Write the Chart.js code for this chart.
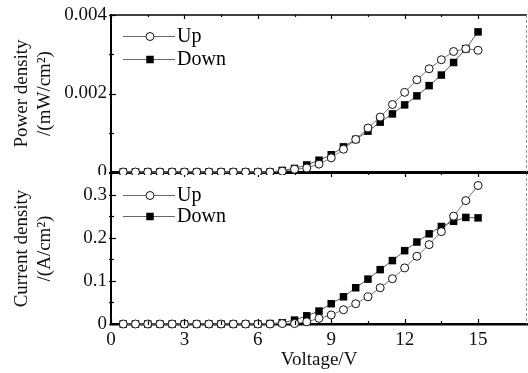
<!DOCTYPE html>
<html>
<head>
<meta charset="utf-8">
<script src="https://cdn.jsdelivr.net/npm/chart.js@4"></script>
<style>
  html, body { margin:0; padding:0; background:#fff; }
  #wrap { position:relative; width:528px; height:373px; overflow:hidden; }
  #wrap canvas { position:absolute; left:0; }
  #topChart { top:0; }
  #botChart { top:170px; }
</style>
</head>
<body>
<div id="wrap">
  <canvas id="botChart" width="528" height="203"></canvas>
  <canvas id="topChart" width="528" height="175"></canvas>
</div>
<script>
// ─── dados ───────────────────────────────────────────────
const VOLTAGE = [0.5, 1, 1.5, 2, 2.5, 3, 3.5, 4, 4.5, 5, 5.5, 6, 6.5, 7, 7.5,
                 8, 8.5, 9, 9.5, 10, 10.5, 11, 11.5, 12, 12.5, 13, 13.5, 14, 14.5, 15];

const POWER_UP   = [0, 0, 0, 0, 0, 0, 0, 0, 0, 0, 0, 0, 0, 0.00002, 0.00007,
                    0.0001, 0.0002, 0.00036, 0.00058, 0.00083, 0.00112, 0.0014, 0.00172, 0.00203,
                    0.00235, 0.00263, 0.00286, 0.00307, 0.00314, 0.0031];
const POWER_DOWN = [0, 0, 0, 0, 0, 0, 0, 0, 0, 0, 0, 0, 0, 0.00004, 0.00009,
                    0.00018, 0.0003, 0.00044, 0.00064, 0.00083, 0.00104, 0.00127, 0.00148, 0.00171,
                    0.00194, 0.0022, 0.00247, 0.00279, 0.00314, 0.00357];

const CURRENT_UP   = [0, 0, 0, 0, 0, 0, 0, 0, 0, 0, 0, 0, 0, 0.001, 0.001,
                      0.005, 0.013, 0.021, 0.033, 0.047, 0.063, 0.084, 0.105, 0.13,
                      0.157, 0.184, 0.214, 0.25, 0.286, 0.321];
const CURRENT_DOWN = [0, 0, 0, 0, 0, 0, 0, 0, 0, 0, 0, 0, 0.001, 0.003, 0.009,
                      0.019, 0.03, 0.047, 0.063, 0.084, 0.104, 0.126, 0.147, 0.17,
                      0.19, 0.209, 0.226, 0.238, 0.247, 0.246];

const SERIES_LABELS = ['Up', 'Down'];
const X_TITLE = 'Voltage/V';
const Y_TITLE_TOP = ['Power density', '/(mW/cm\u00b2)'];
const Y_TITLE_BOT = ['Current density', '/(A/cm\u00b2)'];

// ─── tema ────────────────────────────────────────────────
const FONT = "'Liberation Serif', 'Times New Roman', serif";
Chart.defaults.font.family = FONT;
Chart.defaults.font.size   = 19;
Chart.defaults.color       = '#111';
Chart.defaults.plugins.legend.display  = false;
Chart.defaults.plugins.tooltip.enabled = false;
Chart.defaults.animation = false;

const LEFT = 111;   // borda esquerda da área do gráfico

const xy = (ys) => VOLTAGE.map((v, i) => ({ x: v, y: ys[i] }));

function makeDatasets(up, down) {
  return [
    {
      label: SERIES_LABELS[0], data: xy(up),
      borderColor: '#777', borderWidth: 1,
      pointStyle: 'circle', pointRadius: 4,
      pointBackgroundColor: '#fff', pointBorderColor: '#111', pointBorderWidth: 1,
      clip: false,
    },
    {
      label: SERIES_LABELS[1], data: xy(down),
      borderColor: '#555', borderWidth: 1,
      pointStyle: 'rect', pointRadius: 5.3,
      pointBackgroundColor: '#000', pointBorderColor: '#000', pointBorderWidth: 0,
      clip: false,
    },
  ];
}

// ─── plugin: ticks internos, moldura e legenda ───────────
const frame = {
  id: 'frame',
  afterDraw(chart, args, opts) {
    const { ctx, chartArea: a, scales } = chart;
    ctx.save();
    // ticks do eixo y (para dentro)
    ctx.strokeStyle = '#000';
    ctx.lineWidth = 1.2;
    scales.y.ticks.forEach(t => {
      const py = Math.round(scales.y.getPixelForValue(t.value)) + 0.5;
      const len = t.label !== '' ? 5 : 3;
      ctx.beginPath(); ctx.moveTo(a.left - 2, py); ctx.lineTo(a.left + len, py); ctx.stroke();
    });
    // ticks do eixo x
    scales.x.ticks.forEach(t => {
      if (Math.abs(t.value / 1.5 - Math.round(t.value / 1.5)) > 1e-6) return;
      const px = Math.round(scales.x.getPixelForValue(t.value)) + 0.5;
      const len = t.label !== '' ? 5 : 3;
      if (opts.bottomTicks) {
        ctx.beginPath(); ctx.moveTo(px, a.bottom + 1); ctx.lineTo(px, a.bottom - len); ctx.stroke();
      }
      ctx.beginPath(); ctx.moveTo(px, a.top); ctx.lineTo(px, a.top + len - 1); ctx.stroke();
    });
    // borda superior
    ctx.lineWidth = opts.topWidth;
    ctx.beginPath(); ctx.moveTo(a.left, a.top); ctx.lineTo(a.right, a.top); ctx.stroke();
    // borda direita tracejada
    ctx.strokeStyle = '#999';
    ctx.lineWidth = 1;
    ctx.setLineDash([3, 2]);
    ctx.beginPath(); ctx.moveTo(a.right - 0.5, a.top); ctx.lineTo(a.right - 0.5, a.bottom); ctx.stroke();
    ctx.setLineDash([]);

    // legenda: linha — marcador — linha + texto
    ctx.font = `20px ${FONT}`;
    ctx.textBaseline = 'middle';
    chart.data.datasets.forEach((ds, i) => {
      const y = opts.legendY[i];
      const x0 = a.left + 12, xm = a.left + 39, x1 = a.left + 64;
      ctx.strokeStyle = '#666'; ctx.lineWidth = 1;
      ctx.beginPath(); ctx.moveTo(x0, y + 0.5); ctx.lineTo(x1, y + 0.5); ctx.stroke();
      if (ds.pointStyle === 'circle') {
        ctx.fillStyle = '#fff';
        ctx.beginPath(); ctx.arc(xm, y + 0.5, 4, 0, Math.PI * 2); ctx.fill();
        ctx.strokeStyle = '#111'; ctx.stroke();
      } else {
        ctx.fillStyle = '#000';
        ctx.fillRect(xm - 3.75, y - 3.25, 7.5, 7.5);
      }
      ctx.fillStyle = '#000';
      ctx.fillText(ds.label, a.left + 66, y + 1);
    });
    ctx.restore();
  },
};

function xScale(showLabels) {
  return {
    type: 'linear', min: 0, max: 17,
    grid: { display: false, drawTicks: false },
    border: { display: true, color: '#000', width: showLabels ? 2.5 : 3 },
    ticks: {
      display: showLabels, stepSize: 1.5, padding: 5, maxRotation: 0, autoSkip: false,
      callback: v => (Math.abs(v / 3 - Math.round(v / 3)) < 1e-6 ? String(Math.round(v)) : ''),
    },
    title: showLabels
      ? { display: true, text: X_TITLE, font: { size: 19 }, padding: { top: 0, bottom: 2 } }
      : { display: false },
    afterFit: s => { s.height = showLabels ? 49 : 0; s.paddingLeft = 0; s.paddingRight = 0; },
  };
}

function yScale(max, step, fmt, title) {
  return {
    type: 'linear', min: 0, max,
    grid: { display: false, drawTicks: false },
    border: { display: true, color: '#000', width: 2 },
    ticks: { stepSize: step, padding: 4, autoSkip: false, callback: fmt },
    title: { display: true, text: title, font: { size: 19, lineHeight: 1.2 }, padding: { top: 10.5, bottom: 0 } },
    afterFit: s => { s.width = LEFT; s.paddingTop = 0; s.paddingBottom = 0; },
  };
}

// ─── painel superior: densidade de potência ──────────────
new Chart(document.getElementById('topChart'), {
  type: 'line',
  data: { datasets: makeDatasets(POWER_UP, POWER_DOWN) },
  options: {
    responsive: false,
    layout: { autoPadding: false, padding: { top: 15, right: 1, bottom: 3, left: 0 } },
    scales: {
      x: xScale(false),
      y: yScale(0.004, 0.001,
        v => (Math.round(v * 1000) % 2 === 0 ? (v === 0 ? '0' : v.toFixed(3)) : ''),
        Y_TITLE_TOP),
    },
    plugins: { frame: { legendY: [36, 59], topWidth: 1.5, bottomTicks: false } },
  },
  plugins: [frame],
});

// ─── painel inferior: densidade de corrente ──────────────
new Chart(document.getElementById('botChart'), {
  type: 'line',
  data: { datasets: makeDatasets(CURRENT_UP, CURRENT_DOWN) },
  options: {
    responsive: false,
    layout: { autoPadding: false, padding: { top: 3, right: 1, bottom: 0, left: 0 } },
    scales: {
      x: xScale(true),
      y: yScale(0.35, 0.05,
        v => (Math.round(v * 20) % 2 === 0 ? (v === 0 ? '0' : v.toFixed(1)) : ''),
        Y_TITLE_BOT),
    },
    plugins: { frame: { legendY: [25, 46], topWidth: 2, bottomTicks: true } },
  },
  plugins: [frame],
});
</script>
</body>
</html>
